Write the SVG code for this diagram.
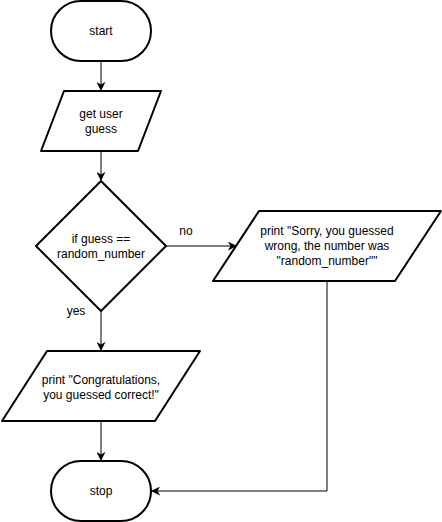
<svg xmlns="http://www.w3.org/2000/svg" width="442" height="522" viewBox="0 0 442 522">
<style>
.s{fill:#fff;stroke:#000;stroke-width:2;stroke-linejoin:round}
.c{fill:none;stroke:#000;stroke-width:1}
text{font-family:"Liberation Sans",Arial,sans-serif;font-size:12px;fill:#000;text-anchor:middle;dominant-baseline:central}
</style>
<defs>
<marker id="a" viewBox="0 0 10 10" refX="9" refY="5" markerWidth="9" markerHeight="9" orient="auto" markerUnits="userSpaceOnUse">
<path d="M0,0 L10,5 L0,10 L3,5 Z" fill="#000"/>
</marker>
</defs>
<rect width="442" height="522" fill="#fff"/>
<g id="connectors">
<path class="c" d="M101,61 V90" marker-end="url(#a)"/>
<path class="c" d="M101,151 V180" marker-end="url(#a)"/>
<path class="c" d="M166,246 H236" marker-end="url(#a)"/>
<path class="c" d="M101,311 V350" marker-end="url(#a)"/>
<path class="c" d="M101,421 V460" marker-end="url(#a)"/>
<path class="c" d="M327,281 V491 H152" marker-end="url(#a)"/>
<text x="186" y="231">no</text>
<text x="76" y="311">yes</text>
</g>
<g id="start">
<rect class="s" x="51" y="1" width="100" height="60" rx="30" ry="30"/>
<text x="101" y="31">start</text>
</g>
<g id="get-guess">
<path class="s" d="M64,91 H161 L138,151 H41 Z"/>
<text x="101" y="114">get user</text>
<text x="101" y="129">guess</text>
</g>
<g id="decision">
<path class="s" d="M101,181 L166,246 L101,311 L36,246 Z"/>
<text x="101" y="239">if guess ==</text>
<text x="101" y="254">random_number</text>
</g>
<g id="wrong">
<path class="s" d="M259,211 H441 L395,281 H213 Z"/>
<text x="327" y="231">print "Sorry, you guessed</text>
<text x="327" y="246">wrong, the number was</text>
<text x="327" y="261">"random_number""</text>
</g>
<g id="correct">
<path class="s" d="M47,351 H200 L155,421 H2 Z"/>
<text x="101" y="380">print "Congratulations,</text>
<text x="101" y="395">you guessed correct!"</text>
</g>
<g id="stop">
<rect class="s" x="51" y="461" width="100" height="60" rx="30" ry="30"/>
<text x="101" y="491">stop</text>
</g>
</svg>
